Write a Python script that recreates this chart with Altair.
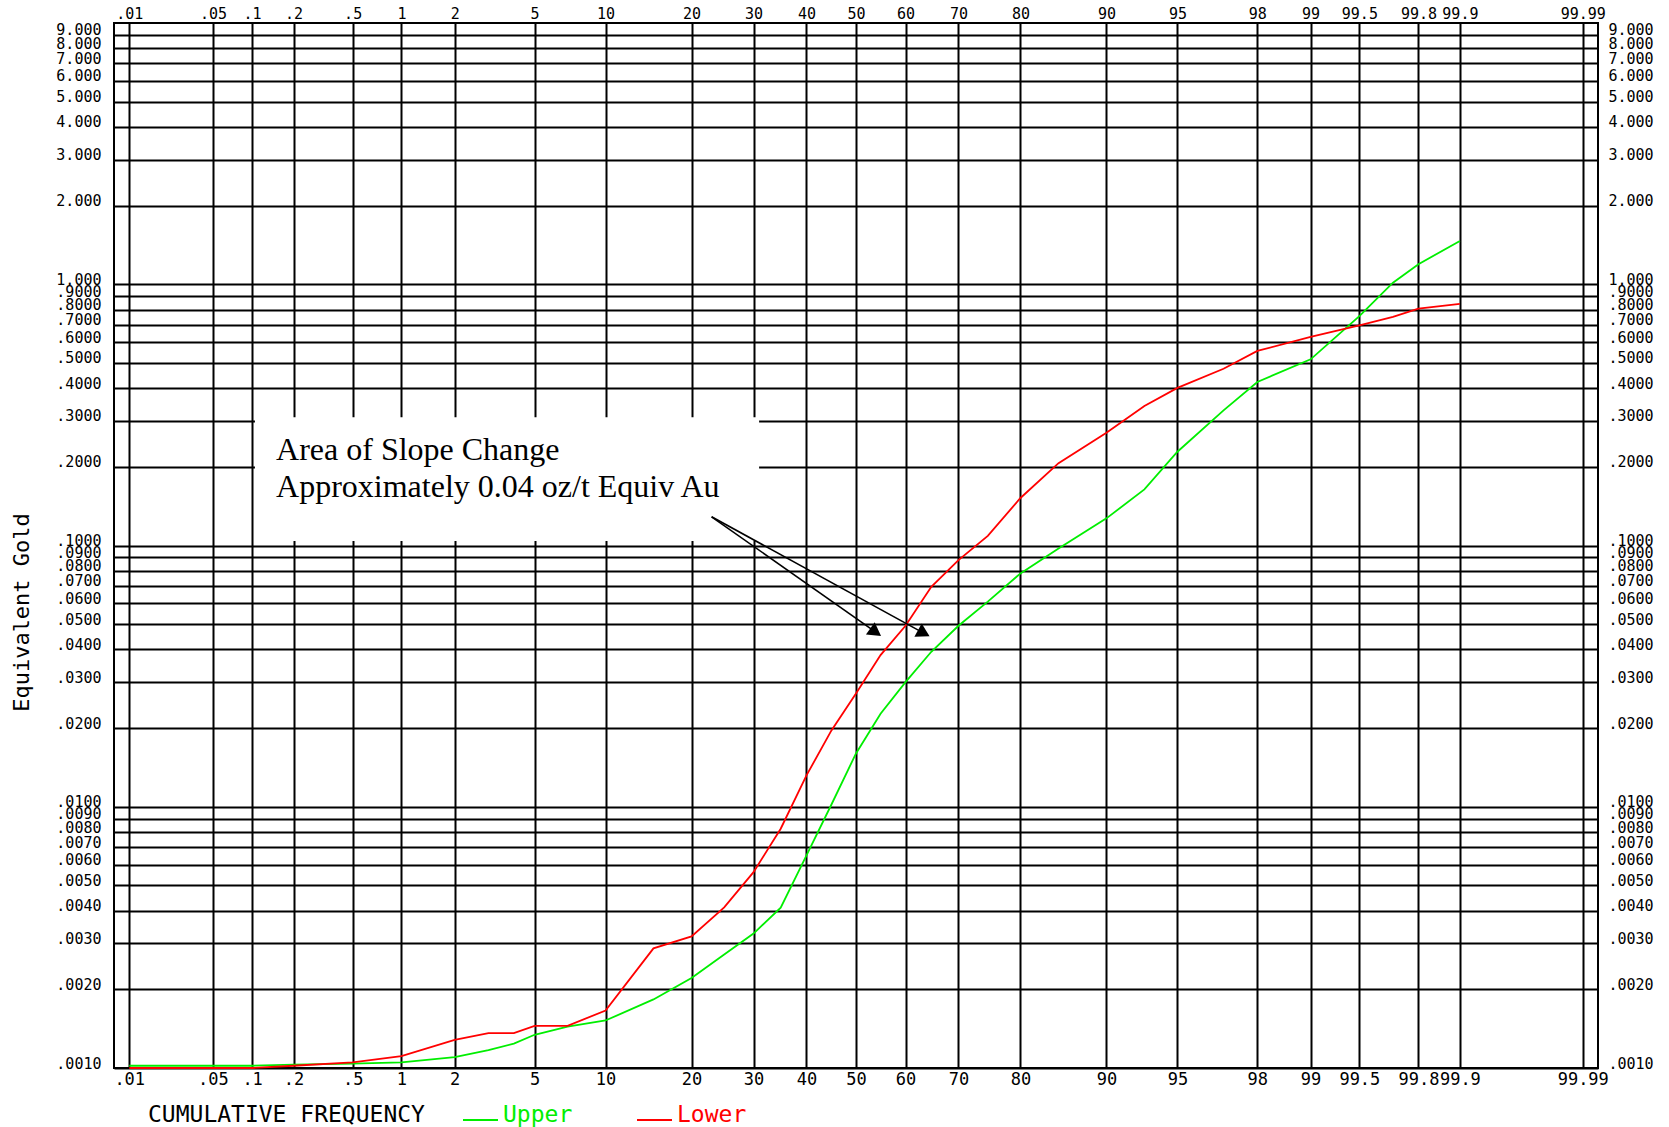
import json
from statistics import NormalDist

import altair as alt
import pandas as pd

# Cumulative frequency (%) at which each series was sampled
PERCENT = [0.01, 0.1, 0.2, 0.5, 1, 2, 3, 4, 5, 7, 10, 15, 20, 25, 30, 35, 40, 45,
           50, 55, 60, 65, 70, 75, 80, 85, 90, 93, 95, 97, 98, 99, 99.5, 99.7,
           99.8, 99.9]

# Equivalent gold grade (oz/t)
UPPER = [0.00102, 0.00102, 0.00103, 0.00104, 0.00105, 0.00110, 0.00117, 0.00124,
         0.00134, 0.00144, 0.00152, 0.00183, 0.00221, 0.00272, 0.00327, 0.00411,
         0.00651, 0.0102, 0.0160, 0.0227, 0.0300, 0.0392, 0.0493, 0.0610,
         0.0782, 0.0973, 0.127, 0.164, 0.2285, 0.329, 0.4227, 0.516, 0.755,
         1.014, 1.193, 1.465]
LOWER = [0.00100, 0.00100, 0.00102, 0.00105, 0.00111, 0.00128, 0.00136, 0.00136,
         0.00145, 0.00145, 0.00166, 0.00287, 0.00319, 0.00412, 0.00562, 0.00824,
         0.01318, 0.0196, 0.02715, 0.03806, 0.0493, 0.0695, 0.0879, 0.1089,
         0.152, 0.2066, 0.270, 0.342, 0.401, 0.475, 0.5557, 0.6284, 0.6966,
         0.750, 0.8065, 0.8406]

SERIES = ["Upper", "Lower"]
COLORS = ["#00ee00", "#ff0000"]

# Probability-axis grid lines and their labels
X_TICKS = [0.01, 0.05, 0.1, 0.2, 0.5, 1, 2, 5, 10, 20, 30, 40, 50, 60, 70, 80,
           90, 95, 98, 99, 99.5, 99.8, 99.9, 99.99]
X_LABELS = [".01", ".05", ".1", ".2", ".5", "1", "2", "5", "10", "20", "30", "40",
            "50", "60", "70", "80", "90", "95", "98", "99", "99.5", "99.8", "99.9",
            "99.99"]

# Log-axis grid lines: 1..9 in every decade from 0.001 to 1
Y_TICKS = [round(k * 10.0 ** e, 6) for e in (-3, -2, -1, 0) for k in range(1, 10)]

NOTE_LINES = ["Area of Slope Change", "Approximately 0.04 oz/t Equiv Au"]

MONO = "DejaVu Sans Mono"
SERIF = "Liberation Serif"

ND = NormalDist()


def probit(p):
    """Normal quantile of a cumulative percentage (probability-paper position)."""
    return ND.inv_cdf(p / 100.0)


Z_EDGE = probit(99.99) + 0.078

rows = []
for name, vals in zip(SERIES, (UPPER, LOWER)):
    for p, v in zip(PERCENT, vals):
        rows.append({"series": name, "p": p, "z": probit(p), "v": v})
curves = pd.DataFrame(rows)

x_scale = alt.Scale(domain=[-Z_EDGE, Z_EDGE], nice=False, zero=False)
y_scale = alt.Scale(type="log", domain=[0.001, 10], nice=False)

z_ticks = [round(probit(p), 6) for p in X_TICKS]
x_label_expr = f"{json.dumps(X_LABELS)}[indexof({json.dumps(z_ticks)}, datum.value)]"
y_label_expr = ("datum.value >= 1 ? format(datum.value, '.3f') : "
                "replace(format(datum.value, '.4f'), '0.', '.')")

common = dict(labelFont=MONO, labelColor="black", labelOverlap=False,
              labelBound=False, labelFlush=False, ticks=False, domain=False)
grid_style = dict(grid=True, gridColor="black", gridWidth=2, gridOpacity=1)

x_bottom = alt.Axis(orient="bottom", values=z_ticks, labelExpr=x_label_expr,
                    labelFontSize=17, labelPadding=3, title=None,
                    **grid_style, **common)
x_top = alt.Axis(orient="top", values=z_ticks, labelExpr=x_label_expr,
                 labelFontSize=15, labelPadding=2, grid=False, title=None, **common)
y_left = alt.Axis(orient="left", values=Y_TICKS, labelExpr=y_label_expr,
                  labelFontSize=15, labelPadding=13, labelBaseline="alphabetic",
                  title="Equivalent Gold", titleFont=MONO, titleFontSize=22,
                  titleFontWeight="normal", titleColor="black", titleX=-93,
                  titleY=589, titleAlign="center", titleBaseline="middle",
                  **grid_style, **common)
y_right = alt.Axis(orient="right", values=Y_TICKS, labelExpr=y_label_expr,
                   labelFontSize=15, labelPadding=10, labelAlign="left",
                   labelBaseline="alphabetic", grid=False, title=None, **common)

# White panel behind the annotation text
panel = pd.DataFrame({"z": [probit(0.105)], "z2": [probit(31.0)],
                      "v": [0.31], "v2": [0.104]})
panel_layer = alt.Chart(panel).mark_rect(color="white").encode(
    x=alt.X("z:Q", scale=x_scale, axis=x_top),
    x2="z2:Q",
    y=alt.Y("v:Q", scale=y_scale, axis=y_right),
    y2="v2:Q",
)

lines = alt.Chart(curves).mark_line(strokeWidth=1.8).encode(
    x=alt.X("z:Q", scale=x_scale, axis=x_bottom),
    y=alt.Y("v:Q", scale=y_scale, axis=y_left),
    color=alt.Color("series:N", scale=alt.Scale(domain=SERIES, range=COLORS),
                    legend=None),
    order="p:Q",
)

# Arrows from the note to the slope-change point
arrows = pd.DataFrame({
    "z": [probit(23.0), probit(23.0)],
    "v": [0.1288, 0.1288],
    "z2": [probit(53.65), probit(63.2)],
    "v2": [0.0471, 0.0466],
    "ang": [125.1, 118.8],
})
shafts = alt.Chart(arrows).mark_rule(color="black", strokeWidth=1.6).encode(
    x=alt.X("z:Q", scale=x_scale, axis=None),
    x2="z2:Q",
    y=alt.Y("v:Q", scale=y_scale, axis=None),
    y2="v2:Q",
)
heads = alt.Chart(arrows).mark_point(shape="triangle", filled=True, size=230,
                                     color="black", opacity=1).encode(
    x=alt.X("z2:Q", scale=x_scale, axis=None),
    y=alt.Y("v2:Q", scale=y_scale, axis=None),
    angle=alt.Angle("ang:Q", scale=None),
)

note = pd.DataFrame({"z": [probit(0.15)] * 2, "v": [0.2132, 0.1533],
                     "t": NOTE_LINES})
note_layer = alt.Chart(note).mark_text(
    align="left", baseline="alphabetic", font=SERIF, fontSize=32, color="black"
).encode(
    x=alt.X("z:Q", scale=x_scale, axis=None),
    y=alt.Y("v:Q", scale=y_scale, axis=None),
    text="t:N",
)

# Hand-drawn legend row under the frequency axis
legend_title = alt.Chart(pd.DataFrame({"t": ["CUMULATIVE FREQUENCY"]})).mark_text(
    align="left", baseline="alphabetic", font=MONO, fontSize=23, color="black"
).encode(text="t:N", x=alt.value(34), y=alt.value(1099))

legend_layers = []
for name, color, x0 in zip(SERIES, COLORS, (349, 523)):
    legend_layers.append(
        alt.Chart(pd.DataFrame({"t": [name]})).mark_rule(color=color, strokeWidth=1.8)
        .encode(x=alt.value(x0), x2=alt.value(x0 + 35), y=alt.value(1097))
    )
    legend_layers.append(
        alt.Chart(pd.DataFrame({"t": [name]})).mark_text(
            align="left", baseline="alphabetic", font=MONO, fontSize=23, color=color
        ).encode(text="t:N", x=alt.value(x0 + 40), y=alt.value(1099))
    )

chart = alt.layer(
    panel_layer, lines, shafts, heads, note_layer, legend_title, *legend_layers
).resolve_axis(
    x="independent", y="independent"
).properties(
    width=1484,
    height=1045,
    padding={"left": 114, "top": 23, "right": 71, "bottom": 59},
    autosize=alt.AutoSizeParams(type="none"),
    background="white",
).configure_view(stroke="black", strokeWidth=2)

chart.save("out.html", embed_options={"renderer": "svg", "actions": False})
